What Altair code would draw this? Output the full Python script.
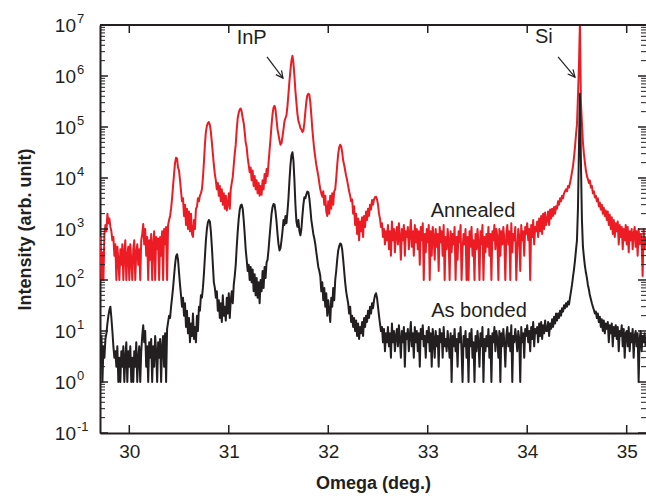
import altair as alt
import pandas as pd

# ---------------- data ----------------
OMEGA = [
    29.70, 29.71, 29.72, 29.73, 29.74, 29.75, 29.76, 29.77, 29.78, 29.79,
    29.80, 29.81, 29.82, 29.83, 29.84, 29.85, 29.86, 29.87, 29.88, 29.89,
    29.90, 29.91, 29.92, 29.93, 29.94, 29.95, 29.96, 29.97, 29.98, 29.99,
    30.00, 30.01, 30.02, 30.03, 30.04, 30.05, 30.06, 30.07, 30.08, 30.09,
    30.10, 30.11, 30.12, 30.13, 30.14, 30.15, 30.16, 30.17, 30.18, 30.19,
    30.20, 30.21, 30.22, 30.23, 30.24, 30.25, 30.26, 30.27, 30.28, 30.29,
    30.30, 30.31, 30.32, 30.33, 30.34, 30.35, 30.36, 30.37, 30.38, 30.39,
    30.40, 30.41, 30.42, 30.43, 30.44, 30.45, 30.46, 30.47, 30.48, 30.49,
    30.50, 30.51, 30.52, 30.53, 30.54, 30.55, 30.56, 30.57, 30.58, 30.59,
    30.60, 30.61, 30.62, 30.63, 30.64, 30.65, 30.66, 30.67, 30.68, 30.69,
    30.70, 30.71, 30.72, 30.73, 30.74, 30.75, 30.76, 30.77, 30.78, 30.79,
    30.80, 30.81, 30.82, 30.83, 30.84, 30.85, 30.86, 30.87, 30.88, 30.89,
    30.90, 30.91, 30.92, 30.93, 30.94, 30.95, 30.96, 30.97, 30.98, 30.99,
    31.00, 31.01, 31.02, 31.03, 31.04, 31.05, 31.06, 31.07, 31.08, 31.09,
    31.10, 31.11, 31.12, 31.13, 31.14, 31.15, 31.16, 31.17, 31.18, 31.19,
    31.20, 31.21, 31.22, 31.23, 31.24, 31.25, 31.26, 31.27, 31.28, 31.29,
    31.30, 31.31, 31.32, 31.33, 31.34, 31.35, 31.36, 31.37, 31.38, 31.39,
    31.40, 31.41, 31.42, 31.43, 31.44, 31.45, 31.46, 31.47, 31.48, 31.49,
    31.50, 31.51, 31.52, 31.53, 31.54, 31.55, 31.56, 31.57, 31.58, 31.59,
    31.60, 31.61, 31.62, 31.63, 31.64, 31.65, 31.66, 31.67, 31.68, 31.69,
    31.70, 31.71, 31.72, 31.73, 31.74, 31.75, 31.76, 31.77, 31.78, 31.79,
    31.80, 31.81, 31.82, 31.83, 31.84, 31.85, 31.86, 31.87, 31.88, 31.89,
    31.90, 31.91, 31.92, 31.93, 31.94, 31.95, 31.96, 31.97, 31.98, 31.99,
    32.00, 32.01, 32.02, 32.03, 32.04, 32.05, 32.06, 32.07, 32.08, 32.09,
    32.10, 32.11, 32.12, 32.13, 32.14, 32.15, 32.16, 32.17, 32.18, 32.19,
    32.20, 32.21, 32.22, 32.23, 32.24, 32.25, 32.26, 32.27, 32.28, 32.29,
    32.30, 32.31, 32.32, 32.33, 32.34, 32.35, 32.36, 32.37, 32.38, 32.39,
    32.40, 32.41, 32.42, 32.43, 32.44, 32.45, 32.46, 32.47, 32.48, 32.49,
    32.50, 32.51, 32.52, 32.53, 32.54, 32.55, 32.56, 32.57, 32.58, 32.59,
    32.60, 32.61, 32.62, 32.63, 32.64, 32.65, 32.66, 32.67, 32.68, 32.69,
    32.70, 32.71, 32.72, 32.73, 32.74, 32.75, 32.76, 32.77, 32.78, 32.79,
    32.80, 32.81, 32.82, 32.83, 32.84, 32.85, 32.86, 32.87, 32.88, 32.89,
    32.90, 32.91, 32.92, 32.93, 32.94, 32.95, 32.96, 32.97, 32.98, 32.99,
    33.00, 33.01, 33.02, 33.03, 33.04, 33.05, 33.06, 33.07, 33.08, 33.09,
    33.10, 33.11, 33.12, 33.13, 33.14, 33.15, 33.16, 33.17, 33.18, 33.19,
    33.20, 33.21, 33.22, 33.23, 33.24, 33.25, 33.26, 33.27, 33.28, 33.29,
    33.30, 33.31, 33.32, 33.33, 33.34, 33.35, 33.36, 33.37, 33.38, 33.39,
    33.40, 33.41, 33.42, 33.43, 33.44, 33.45, 33.46, 33.47, 33.48, 33.49,
    33.50, 33.51, 33.52, 33.53, 33.54, 33.55, 33.56, 33.57, 33.58, 33.59,
    33.60, 33.61, 33.62, 33.63, 33.64, 33.65, 33.66, 33.67, 33.68, 33.69,
    33.70, 33.71, 33.72, 33.73, 33.74, 33.75, 33.76, 33.77, 33.78, 33.79,
    33.80, 33.81, 33.82, 33.83, 33.84, 33.85, 33.86, 33.87, 33.88, 33.89,
    33.90, 33.91, 33.92, 33.93, 33.94, 33.95, 33.96, 33.97, 33.98, 33.99,
    34.00, 34.01, 34.02, 34.03, 34.04, 34.05, 34.06, 34.07, 34.08, 34.09,
    34.10, 34.11, 34.12, 34.13, 34.14, 34.15, 34.16, 34.17, 34.18, 34.19,
    34.20, 34.21, 34.22, 34.23, 34.24, 34.25, 34.26, 34.27, 34.28, 34.29,
    34.30, 34.31, 34.32, 34.33, 34.34, 34.35, 34.36, 34.37, 34.38, 34.39,
    34.40, 34.41, 34.42, 34.43, 34.44, 34.45, 34.46, 34.47, 34.48, 34.49,
    34.50, 34.51, 34.52, 34.53, 34.54, 34.55, 34.56, 34.57, 34.58, 34.59,
    34.60, 34.61, 34.62, 34.63, 34.64, 34.65, 34.66, 34.67, 34.68, 34.69,
    34.70, 34.71, 34.72, 34.73, 34.74, 34.75, 34.76, 34.77, 34.78, 34.79,
    34.80, 34.81, 34.82, 34.83, 34.84, 34.85, 34.86, 34.87, 34.88, 34.89,
    34.90, 34.91, 34.92, 34.93, 34.94, 34.95, 34.96, 34.97, 34.98, 34.99,
    35.00, 35.01, 35.02, 35.03, 35.04, 35.05, 35.06, 35.07, 35.08, 35.09,
    35.10, 35.11, 35.12, 35.13, 35.14, 35.15, 35.16, 35.17, 35.18, 35.19,
]

AS_BONDED = [
    6, 4, 8, 1, 5, 3, 7, 9, 14, 20,
    26, 30, 18, 10, 5, 3, 4, 2, 5, 1,
    3, 1, 4, 2, 5, 1, 3, 6, 1, 4,
    2, 5, 1, 3, 1, 4, 2, 6, 1, 3,
    5, 1, 4, 8, 13, 6, 10, 2, 5, 1,
    6, 3, 7, 1, 5, 2, 8, 4, 1, 6,
    3, 7, 1, 5, 8, 2, 9, 1, 11, 15,
    20, 18, 30, 45, 70, 120, 200, 290, 320, 250,
    140, 80, 50, 30, 45, 20, 35, 12, 25, 9,
    18, 6, 14, 8, 22, 7, 12, 6, 20, 10,
    30, 25, 50, 45, 70, 130, 280, 600, 1000, 1350,
    1500, 1400, 900, 450, 200, 90, 70, 45, 60, 25,
    40, 18, 35, 15, 50, 20, 30, 16, 45, 22,
    55, 18, 40, 60, 35, 80, 120, 200, 450, 900,
    1600, 2400, 2900, 3000, 2500, 1500, 800, 400, 250, 150,
    200, 100, 180, 90, 160, 60, 130, 50, 110, 45,
    90, 35, 100, 60, 150, 70, 180, 110, 220, 250,
    400, 700, 1200, 2000, 2700, 3100, 3000, 2200, 1400, 800,
    500, 380, 420, 600, 900, 1500, 1200, 1800, 1300, 2200,
    4000, 9000, 18000, 28000, 32000, 22000, 9000, 3000, 1400, 1100,
    1500, 900, 750, 1000, 1800, 3000, 4200, 4000, 4800, 5400,
    5300, 4000, 2500, 1500, 1100, 800, 650, 500, 350, 250,
    180, 150, 120, 60, 90, 40, 70, 30, 55, 20,
    40, 25, 15, 45, 30, 70, 40, 100, 150, 250,
    380, 460, 520, 500, 400, 250, 150, 90, 60, 45,
    35, 22, 30, 15, 20, 12, 18, 10, 16, 8,
    14, 7, 12, 9, 15, 8, 18, 12, 20, 15,
    25, 18, 30, 22, 35, 28, 40, 50, 55, 45,
    30, 20, 14, 10, 12, 6, 11, 4, 9, 6,
    12, 5, 9, 3, 14, 6, 10, 4, 8, 11,
    5, 13, 7, 3, 10, 6, 12, 2, 9, 7,
    11, 4, 8, 15, 5, 9, 3, 12, 6, 10,
    4, 9, 2, 11, 7, 13, 5, 8, 3, 10,
    6, 12, 4, 9, 2, 11, 7, 3, 10, 5,
    8, 2, 11, 6, 9, 3, 12, 5, 7, 4,
    10, 6, 3, 9, 1, 8, 5, 11, 4, 7,
    2, 9, 6, 12, 4, 1, 8, 5, 10, 3,
    7, 1, 9, 5, 11, 3, 6, 1, 8, 4,
    10, 6, 2, 9, 5, 12, 1, 7, 4, 8,
    5, 11, 3, 8, 1, 9, 6, 12, 4, 10,
    7, 3, 10, 1, 9, 5, 11, 6, 2, 8,
    12, 5, 9, 4, 13, 1, 8, 6, 11, 7,
    4, 10, 7, 1, 12, 6, 9, 3, 11, 8,
    13, 6, 10, 4, 12, 7, 15, 5, 11, 9,
    12, 6, 14, 8, 15, 7, 13, 9, 16, 10,
    10, 15, 8, 14, 11, 17, 12, 19, 14, 22,
    16, 22, 18, 25, 20, 28, 24, 32, 28, 35,
    30, 38, 33, 45, 60, 80, 115, 160, 240, 380,
    600, 2500, 40000, 450000, 20000, 1500, 450, 280, 190, 140,
    110, 80, 65, 50, 42, 35, 30, 26, 22, 24,
    18, 22, 15, 19, 12, 17, 10, 16, 9, 14,
    11, 15, 6, 13, 9, 14, 5, 12, 8, 13,
    7, 12, 4, 10, 8, 13, 5, 11, 3, 9,
    10, 5, 12, 4, 9, 6, 11, 3, 8, 10,
    5, 9, 1, 7, 10, 4, 8, 6, 9, 5,
]

ANNEALED = [
    500, 700, 100, 350, 100, 800, 1200, 900, 2000, 1300,
    1600, 1100, 900, 600, 700, 300, 500, 100, 450, 250,
    100, 400, 200, 500, 100, 350, 600, 100, 300, 450,
    100, 500, 250, 100, 400, 600, 100, 350, 500, 200,
    400, 100, 600, 800, 1250, 500, 1000, 300, 700, 100,
    600, 250, 800, 100, 500, 900, 100, 700, 400, 650,
    100, 700, 300, 900, 100, 1000, 500, 1100, 100, 1200,
    1500, 1800, 2500, 4000, 7000, 12000, 20000, 25000, 24000, 16000,
    14000, 9000, 5500, 3500, 4000, 1800, 3000, 1200, 2500, 1000,
    2200, 900, 2000, 800, 700, 1500, 1000, 2500, 2700, 4000,
    3500, 4500, 5000, 6000, 10000, 20000, 45000, 80000, 105000, 120000,
    125000, 110000, 80000, 50000, 30000, 18000, 12000, 9000, 6000, 8000,
    4500, 7000, 3500, 6000, 3000, 5000, 2500, 4500, 2300, 3000,
    5000, 2500, 6000, 8000, 10500, 18000, 30000, 45000, 90000, 150000,
    190000, 220000, 230000, 200000, 150000, 120000, 80000, 50000, 40000, 25000,
    18000, 13000, 16000, 9000, 14000, 7000, 11000, 6000, 9000, 5000,
    8000, 4500, 7000, 4700, 9000, 6000, 12000, 8000, 15000, 11000,
    20000, 35000, 60000, 110000, 180000, 240000, 260000, 220000, 140000, 90000,
    70000, 55000, 45000, 48000, 65000, 90000, 130000, 150000, 170000, 260000,
    450000, 800000, 1300000, 2000000, 2500000, 1800000, 1000000, 500000, 300000, 180000,
    130000, 115000, 95000, 90000, 80000, 85000, 120000, 200000, 320000, 420000,
    450000, 430000, 300000, 170000, 90000, 55000, 35000, 25000, 18000, 14000,
    11000, 8000, 6000, 5000, 4300, 5500, 3000, 4500, 2200, 1800,
    3500, 2000, 4500, 2500, 5000, 3000, 5500, 6000, 10000, 18000,
    30000, 40000, 45000, 42000, 32000, 22000, 18000, 14000, 11000, 9000,
    7000, 5500, 4500, 3500, 3800, 2000, 2800, 1200, 2000, 800,
    1600, 600, 1400, 900, 1700, 700, 1800, 1100, 2200, 1500,
    2500, 1800, 3000, 2400, 3700, 3000, 3800, 4200, 4300, 3800,
    3000, 2000, 1600, 1100, 1300, 700, 1000, 500, 900, 600,
    1200, 400, 900, 300, 1400, 600, 1000, 350, 800, 1100,
    500, 1300, 700, 250, 1000, 600, 1200, 300, 900, 700,
    1100, 400, 800, 1500, 450, 900, 300, 1200, 550, 1000,
    400, 900, 200, 1100, 600, 1300, 100, 800, 350, 1000,
    550, 1200, 100, 900, 300, 1100, 700, 250, 1000, 450,
    800, 150, 1100, 550, 900, 300, 1200, 100, 700, 400,
    1000, 600, 100, 900, 350, 800, 500, 1100, 100, 700,
    250, 900, 550, 1200, 100, 400, 800, 500, 1000, 100,
    700, 100, 900, 450, 1100, 300, 600, 100, 800, 400,
    1000, 550, 100, 900, 500, 1200, 100, 700, 350, 800,
    450, 1100, 300, 800, 100, 900, 600, 1200, 400, 1000,
    700, 100, 1000, 300, 900, 500, 1100, 600, 100, 800,
    1200, 500, 900, 100, 1300, 350, 800, 600, 1100, 100,
    400, 1000, 700, 150, 1200, 600, 900, 300, 1100, 800,
    1300, 600, 1000, 100, 1200, 700, 1500, 500, 1100, 900,
    1400, 700, 1600, 900, 1800, 800, 2000, 1000, 2100, 1200,
    1500, 2200, 1200, 2400, 1600, 2500, 1800, 2700, 2000, 2800,
    2500, 3500, 3000, 4000, 3500, 4500, 4000, 5000, 5500, 6000,
    5500, 7000, 6500, 8000, 10000, 13000, 17000, 25000, 40000, 70000,
    110000, 400000, 1600000, 12000000, 300000, 120000, 50000, 30000, 20000, 14000,
    11000, 9500, 8000, 9000, 6500, 7000, 5000, 5500, 4200, 4500,
    3500, 4000, 2800, 3300, 2400, 3000, 2000, 2600, 1800, 2300,
    1500, 2200, 1200, 1900, 1000, 1700, 800, 1500, 700, 1300,
    900, 1400, 500, 1200, 700, 1100, 400, 1000, 600, 1200,
    500, 1100, 350, 900, 600, 1000, 400, 800, 1100, 450,
    900, 300, 1000, 500, 800, 600, 120, 1000, 400, 700,
]

X_TICKS = [30, 31, 32, 33, 34, 35]
Y_DECADES = [0.1, 1, 10, 100, 1000, 10000, 100000, 1000000, 10000000]
Y_EXPONENTS = ["-1", "0", "1", "2", "3", "4", "5", "6", "7"]
Y_MINOR = [m * d for d in Y_DECADES[:-1] for m in (2, 3, 4, 5, 6, 7, 8, 9)]

ANNOT_TEXT = ["InP", "Si", "Annealed", "As bonded"]
ANNOT_X = [31.23, 34.167, 33.455, 33.515]
ANNOT_Y = [5.6e6, 5.8e6, 2250, 25]

ARROW_X = [31.384, 34.31]
ARROW_Y = [2.36e6, 2.36e6]
ARROW_X2 = [31.545, 34.48]
ARROW_Y2 = [9.1e5, 9.5e5]
ARROW_ANGLE = [322.7, 319.6]

# ---------------- styling ----------------
INK = "#231f20"
RED = "#ed1c24"
FONT = "Liberation Sans"
W, H = 546, 408
X_DOMAIN = [29.7055, 35.194]
Y_DOMAIN = [0.1, 1e7]

xs = alt.Scale(domain=X_DOMAIN, nice=False, zero=False)
ys = alt.Scale(type="log", domain=Y_DOMAIN, nice=False)

x_axis = alt.Axis(values=X_TICKS, ticks=False, grid=False, domainWidth=2,
                  domainColor=INK, labelFont=FONT, labelFontSize=19,
                  labelColor=INK, labelPadding=9, labelFlush=False,
                  title="Omega (deg.)", titleFont=FONT, titleFontSize=18,
                  titleFontWeight="bold", titleColor=INK, titlePadding=13)
y_axis = alt.Axis(values=Y_DECADES, labels=False, ticks=False, grid=False,
                  domainWidth=2, domainColor=INK,
                  title="Intensity (arb. unit)", titleFont=FONT,
                  titleFontSize=18, titleFontWeight="bold", titleColor=INK,
                  titlePadding=66)


def X(field):
    return alt.X(f"{field}:Q", scale=xs, axis=x_axis)


def Y(field):
    return alt.Y(f"{field}:Q", scale=ys, axis=y_axis)


red_df = pd.DataFrame({"omega": OMEGA, "intensity": ANNEALED})
black_df = pd.DataFrame({"omega": OMEGA, "intensity": AS_BONDED})

red_line = alt.Chart(red_df).mark_line(
    color=RED, strokeWidth=2, clip=True, strokeJoin="round"
).encode(x=X("omega"), y=Y("intensity"))

black_line = alt.Chart(black_df).mark_line(
    color=INK, strokeWidth=2, clip=True, strokeJoin="round"
).encode(x=X("omega"), y=Y("intensity"))

xt = pd.DataFrame({"v": X_TICKS})
x_ticks_bottom = alt.Chart(xt).mark_rule(color=INK, strokeWidth=1.5).encode(
    x=X("v"), y=alt.value(H), y2=alt.value(H - 8))
x_ticks_top = alt.Chart(xt).mark_rule(color=INK, strokeWidth=1.5).encode(
    x=X("v"), y=alt.value(0), y2=alt.value(8))

ymaj = pd.DataFrame({"v": Y_DECADES, "e": Y_EXPONENTS})
ymin = pd.DataFrame({"v": Y_MINOR})
y_major_left = alt.Chart(ymaj).mark_rule(color=INK, strokeWidth=1.5).encode(
    y=Y("v"), x=alt.value(0), x2=alt.value(8))
y_major_right = alt.Chart(ymaj).mark_rule(color=INK, strokeWidth=1.5).encode(
    y=Y("v"), x=alt.value(W), x2=alt.value(W - 8))
y_minor_left = alt.Chart(ymin).mark_rule(color=INK, strokeWidth=1).encode(
    y=Y("v"), x=alt.value(0), x2=alt.value(5))
y_minor_right = alt.Chart(ymin).mark_rule(color=INK, strokeWidth=1).encode(
    y=Y("v"), x=alt.value(W), x2=alt.value(W - 5))

top_border = alt.Chart(xt).mark_rule(color=INK, strokeWidth=2).encode(
    x=alt.value(0), x2=alt.value(W), y=alt.value(0))

y_label_base = alt.Chart(ymaj).mark_text(
    align="right", baseline="alphabetic", dy=7, font=FONT, fontSize=19,
    color=INK
).encode(y=Y("v"), x=alt.value(-24), text=alt.value("10"))
y_label_exp = alt.Chart(ymaj).mark_text(
    align="left", baseline="alphabetic", dy=-2, font=FONT, fontSize=13,
    color=INK
).encode(y=Y("v"), x=alt.value(-23), text="e:N")

annot_df = pd.DataFrame({"t": ANNOT_TEXT, "x": ANNOT_X, "y": ANNOT_Y})
annotations = alt.Chart(annot_df).mark_text(
    align="center", baseline="middle", font=FONT, fontSize=20, color=INK
).encode(x=X("x"), y=Y("y"), text="t:N")

arrow_df = pd.DataFrame({"x": ARROW_X, "y": ARROW_Y, "x2": ARROW_X2,
                         "y2": ARROW_Y2, "a": ARROW_ANGLE})
arrow_shaft = alt.Chart(arrow_df).mark_rule(color=INK, strokeWidth=1.2).encode(
    x=X("x"), y=Y("y"), x2="x2:Q", y2="y2:Q")
arrow_head = alt.Chart(arrow_df).mark_point(
    shape="M -0.5 -1 L 0 0 L 0.5 -1", filled=False, size=200, color=INK,
    strokeWidth=1.2, opacity=1
).encode(x=X("x2"), y=Y("y2"), angle=alt.Angle("a:Q", scale=None))

chart = alt.layer(
    red_line, black_line,
    x_ticks_bottom, x_ticks_top,
    y_minor_left, y_minor_right, y_major_left, y_major_right,
    top_border, y_label_base, y_label_exp,
    annotations, arrow_shaft, arrow_head,
).properties(
    width=W, height=H,
    padding={"left": 100, "top": 25, "right": 0, "bottom": 66},
    autosize=alt.AutoSizeParams(type="none"),
    background="white",
).configure_view(stroke=None)

chart.save("out.html", embed_options={"renderer": "svg", "actions": False})
